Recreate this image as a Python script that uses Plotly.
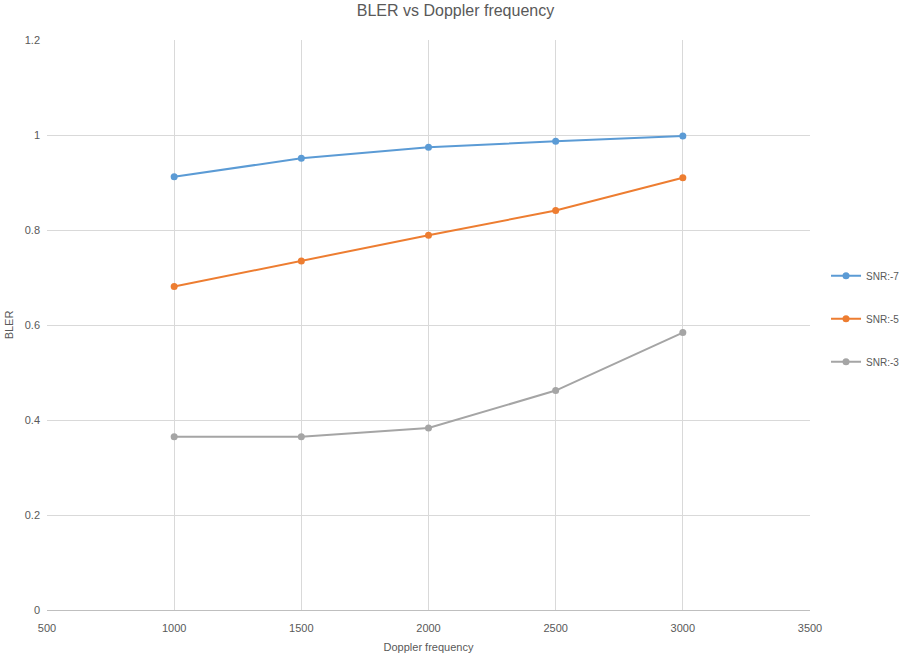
import plotly.graph_objects as go

# Doppler frequencies (Hz) and block error rate per SNR setting
doppler = [1000, 1500, 2000, 2500, 3000]
bler_snr_m7 = [0.912, 0.951, 0.974, 0.987, 0.998]
bler_snr_m5 = [0.681, 0.735, 0.789, 0.841, 0.910]
bler_snr_m3 = [0.365, 0.365, 0.383, 0.462, 0.584]

series = [
    ("SNR:-7", bler_snr_m7, "#5B9BD5"),
    ("SNR:-5", bler_snr_m5, "#ED7D31"),
    ("SNR:-3", bler_snr_m3, "#A5A5A5"),
]

font_family = "Liberation Sans Narrow, Liberation Sans, Arial, sans-serif"
text_color = "#595959"

fig = go.Figure()
for i, (name, vals, color) in enumerate(series):
    fig.add_trace(go.Scatter(
        x=doppler, y=vals, name=name, mode="lines+markers",
        line=dict(color=color, width=2),
        marker=dict(color=color, size=7),
        legendgroup=f"g{i}",
    ))

fig.update_layout(
    width=911, height=655,
    margin=dict(l=47, r=101, t=40, b=45, autoexpand=False),
    paper_bgcolor="white", plot_bgcolor="white",
    font=dict(family=font_family, size=11, color=text_color),
    title=dict(text="BLER vs Doppler frequency", x=0.5, xanchor="center",
               y=0.992, yanchor="top",
               font=dict(size=16, color=text_color, family=font_family)),
    xaxis=dict(
        range=[500, 3500], dtick=500, tick0=500,
        showgrid=True, gridcolor="#D9D9D9", gridwidth=1,
        showline=True, linecolor="#BFBFBF", linewidth=1,
        zeroline=False, ticks="", ticklabelstandoff=8, automargin=False,
        tickfont=dict(color=text_color),
        title=dict(text="Doppler frequency", standoff=10,
                   font=dict(size=11, color=text_color)),
    ),
    yaxis=dict(
        range=[0, 1.2], dtick=0.2, tick0=0,
        showgrid=True, gridcolor="#D9D9D9", gridwidth=1,
        showline=False, zeroline=False, ticks="", automargin=False,
        tickformat="~g", ticklabelstandoff=6,
        tickfont=dict(color=text_color),
        title=dict(text="BLER", standoff=8,
                   font=dict(size=11, color=text_color)),
    ),
    legend=dict(
        x=1.021, xanchor="left", xref="paper", y=0.511, yanchor="middle",
        tracegroupgap=24, font=dict(size=10, color=text_color),
        bgcolor="rgba(0,0,0,0)",
    ),
)

fig.write_html("out.html")
